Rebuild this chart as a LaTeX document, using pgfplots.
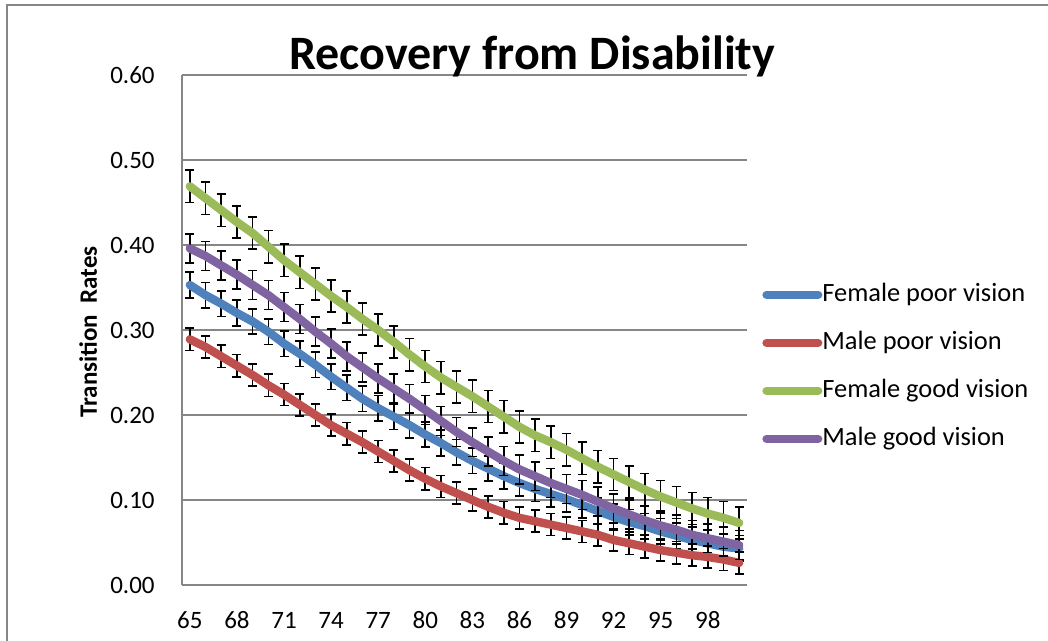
\documentclass[border=0pt]{standalone}
\usepackage{fontspec}
\setmainfont{Carlito}
\usepackage{pgfplots}
\usepackage{pgfplotstable}
\pgfplotsset{compat=1.18}
\definecolor{xlblue}{HTML}{4F81BD}
\definecolor{xlred}{HTML}{C0504D}
\definecolor{xlgreen}{HTML}{9BBB59}
\definecolor{xlpurple}{HTML}{8064A2}
\definecolor{xlgrid}{HTML}{868686}
\pgfplotstableread{
age fp mp fg mg
65 0.353 0.289 0.469 0.396
66 0.341 0.280 0.455 0.387
67 0.331 0.269 0.441 0.376
68 0.320 0.258 0.427 0.365
69 0.310 0.247 0.414 0.353
70 0.298 0.235 0.398 0.341
71 0.284 0.224 0.382 0.327
72 0.272 0.212 0.368 0.313
73 0.259 0.200 0.354 0.298
74 0.245 0.188 0.340 0.284
75 0.232 0.178 0.327 0.269
76 0.219 0.168 0.313 0.256
77 0.208 0.157 0.300 0.243
78 0.198 0.146 0.286 0.231
79 0.188 0.135 0.271 0.219
80 0.177 0.125 0.257 0.206
81 0.167 0.116 0.244 0.193
82 0.156 0.108 0.233 0.180
83 0.146 0.100 0.222 0.168
84 0.137 0.092 0.210 0.157
85 0.128 0.085 0.198 0.146
86 0.120 0.079 0.186 0.136
87 0.113 0.075 0.176 0.128
88 0.107 0.071 0.168 0.120
89 0.101 0.067 0.159 0.113
90 0.094 0.063 0.149 0.106
91 0.087 0.059 0.139 0.098
92 0.080 0.053 0.130 0.090
93 0.074 0.049 0.121 0.083
94 0.069 0.045 0.112 0.076
95 0.063 0.041 0.104 0.070
96 0.058 0.038 0.097 0.065
97 0.053 0.035 0.090 0.059
98 0.049 0.033 0.084 0.055
99 0.045 0.030 0.079 0.051
100 0.043 0.026 0.073 0.047
}\data
\pgfplotsset{
  ebars/.style={draw=none, mark=none, forget plot,
    error bars/.cd, y dir=both, y fixed=#1,
    error bar style={draw=black, line width=0.8pt, solid},
    error mark options={draw=black, rotate=90, mark size=2.25pt, line width=0.8pt}},
  serline/.style={color=#1, line width=4.2pt, line cap=round, line join=round, mark=none},
}
\begin{document}
\begin{tikzpicture}
\useasboundingbox (-91pt,-28pt) rectangle (433pt,292.5pt);
\draw[xlgrid, line width=1pt] (-87.5pt,-40pt) -- (-87.5pt,290pt) -- (440pt,290pt);
\begin{axis}[
  scale only axis,
  width=282.5pt, height=255pt,
  xmin=64.5, xmax=100.5,
  ymin=0, ymax=0.6,
  xtick={65,68,...,98},
  ytick={0,0.1,0.2,0.3,0.4,0.5,0.6},
  major tick length=0pt,
  axis x line*=bottom, axis y line*=left,
  axis line style={draw=xlgrid, line width=1pt},
  ymajorgrids,
  major grid style={draw=xlgrid, line width=1pt},
  tick label style={font=\fontsize{12.5}{15}\selectfont},
  /pgf/number format/assume math mode=true,
  yticklabel style={/pgf/number format/.cd, fixed, fixed zerofill, precision=2, /tikz/.cd, anchor=east, inner sep=0pt, xshift=-13.5pt},
  xticklabel style={anchor=center, inner sep=0pt, yshift=-17.5pt},
  title={Recovery from Disability},
  title style={font=\bfseries\fontsize{24}{28}\selectfont, at={(axis description cs:0.62,1.013)}, anchor=center, inner sep=0pt},
  ylabel={Transition\ \ Rates},
  ylabel style={font=\bfseries\fontsize{12.5}{14}\selectfont, at={(axis description cs:-0.166,0.496)}, anchor=center, rotate=0},
  legend style={draw=none, fill=none, at={(axis description cs:1.0265,0.428)}, anchor=west, inner sep=0pt,
    font=\fontsize{13.2}{15}\selectfont, row sep=11.5pt,
    nodes={inner sep=0pt, text height=9.5pt, text depth=3pt}},
  legend cell align=left,
  legend image code/.code={\draw[#1, line width=4.2pt, line cap=round] (2.1pt,0pt) -- (27.9pt,0pt);},
  clip=false,
]
\addplot[ebars=0.015] table[x=age, y=fp] {\data};
\addplot[serline=xlblue] table[x=age, y=fp] {\data};
\addlegendentry{Female poor vision}
\addplot[ebars=0.013] table[x=age, y=mp] {\data};
\addplot[serline=xlred] table[x=age, y=mp] {\data};
\addlegendentry{Male poor vision}
\addplot[ebars=0.019] table[x=age, y=fg] {\data};
\addplot[serline=xlgreen] table[x=age, y=fg] {\data};
\addlegendentry{Female good vision}
\addplot[ebars=0.017] table[x=age, y=mg] {\data};
\addplot[serline=xlpurple] table[x=age, y=mg] {\data};
\addlegendentry{Male good vision}
\end{axis}
\end{tikzpicture}
\end{document}
